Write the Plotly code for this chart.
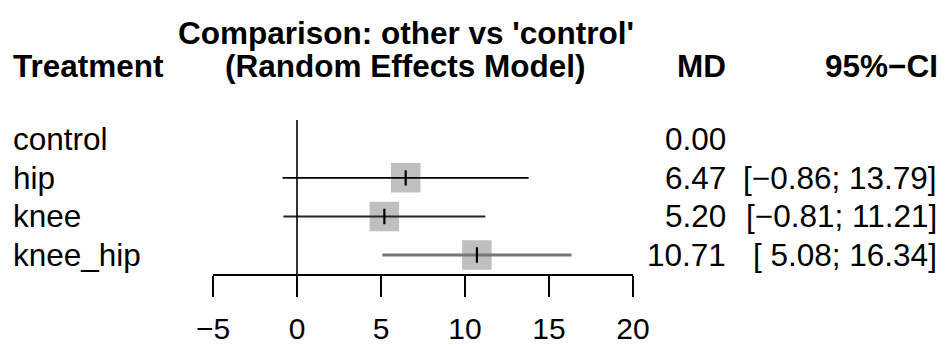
import plotly.graph_objects as go

# ---- data ----
treatments = ["control", "hip", "knee", "knee_hip"]
md = [0.00, 6.47, 5.20, 10.71]
lower = [None, -0.86, -0.81, 5.08]
upper = [None, 13.79, 11.21, 16.34]
tick_vals = [-5, 0, 5, 10, 15, 20]
tick_text = ["\u22125", "0", "5", "10", "15", "20"]

W, H = 946, 347
FONT = "Liberation Sans, Arial, sans-serif"
FS = 31.5

def fmt(v):
    s = f"{v:.2f}"
    return s.replace("-", "\u2212")

def fmt_ci(lo, hi):
    l = fmt(lo)
    h = fmt(hi)
    l = l if l.startswith("\u2212") else " " + l
    return f"[{l}; {h}]"

n = len(treatments)
ypos = list(range(n, 0, -1))  # control at top

fig = go.Figure()

line_styles = {"hip": ("#000000", 1.6), "knee": ("#262626", 1.9), "knee_hip": ("#767676", 3.0)}

# squares
sq_x, sq_y = [], []
for t, m, lo, hi, y in zip(treatments, md, lower, upper, ypos):
    if lo is None:
        continue
    sq_x.append(m)
    sq_y.append(y)
fig.add_trace(go.Scatter(x=sq_x, y=sq_y, mode="markers",
                         marker=dict(symbol="square", size=29.5, color="#bfbfbf", line=dict(width=0)),
                         hoverinfo="skip", showlegend=False))

# CI lines
for t, m, lo, hi, y in zip(treatments, md, lower, upper, ypos):
    if lo is None:
        continue
    col, wd = line_styles.get(t, ("#000000", 1.6))
    fig.add_trace(go.Scatter(x=[lo, hi], y=[y, y], mode="lines",
                             line=dict(color=col, width=wd),
                             hoverinfo="skip", showlegend=False))

# estimate ticks
fig.add_trace(go.Scatter(x=sq_x, y=sq_y, mode="markers",
                         marker=dict(symbol="line-ns", size=11, line=dict(color="#000000", width=2.2)),
                         hoverinfo="skip", showlegend=False))

# reference line at 0
fig.add_shape(type="line", xref="x", yref="y", x0=0, x1=0, y0=0.5, y1=4.5,
              line=dict(color="#000000", width=1.6), layer="above")

ann = []
def px(x):
    return x / W
def py(y):
    return 1 - y / H

txt = dict(size=FS, family=FONT, color="#000000")

# row labels and values
for t, m, lo, hi, y in zip(treatments, md, lower, upper, ypos):
    ann.append(dict(x=px(11), y=y, xref="paper", yref="y", text=t, xanchor="left", yanchor="middle",
                    showarrow=False, font=txt))
    ann.append(dict(x=px(728), y=y, xref="paper", yref="y", text=fmt(m), xanchor="right", yanchor="middle",
                    showarrow=False, font=txt))
    if lo is not None:
        ann.append(dict(x=px(939), y=y, xref="paper", yref="y", text=fmt_ci(lo, hi), xanchor="right",
                        yanchor="middle", showarrow=False, font=txt))

# headers
ann.append(dict(x=px(406), y=py(33), xref="paper", yref="paper", text="<b>Comparison: other vs 'control'</b>",
                xanchor="center", yanchor="middle", showarrow=False, font=txt))
ann.append(dict(x=px(405), y=py(66), xref="paper", yref="paper", text="<b>(Random Effects Model)</b>",
                xanchor="center", yanchor="middle", showarrow=False, font=txt))
ann.append(dict(x=px(11), y=py(66), xref="paper", yref="paper", text="<b>Treatment</b>",
                xanchor="left", yanchor="middle", showarrow=False, font=txt))
ann.append(dict(x=px(728), y=py(66), xref="paper", yref="paper", text="<b>MD</b>",
                xanchor="right", yanchor="middle", showarrow=False, font=txt))
ann.append(dict(x=px(940), y=py(66), xref="paper", yref="paper", text="<b>95%\u2212CI</b>",
                xanchor="right", yanchor="middle", showarrow=False, font=txt))

fig.update_layout(
    template="none",
    width=W, height=H,
    margin=dict(l=0, r=0, t=0, b=0, autoexpand=False),
    paper_bgcolor="white", plot_bgcolor="white",
    annotations=ann,
    xaxis=dict(domain=[213 / W, 633 / W], range=[-5, 20], tickvals=tick_vals, ticktext=tick_text,
               showline=True, linecolor="#000000", linewidth=1.6, ticks="outside", ticklen=21,
               tickwidth=1.6, tickcolor="#000000", showgrid=False, zeroline=False, automargin=False,
               ticklabelstandoff=6,
               tickfont=dict(size=30, family=FONT, color="#000000"), anchor="y"),
    yaxis=dict(domain=[(H - 274.3) / H, (H - 120) / H], range=[0.5, 4.5], visible=False,
               showgrid=False, zeroline=False, automargin=False),
)

fig.write_html("out.html", config={"displayModeBar": False},
               post_script="document.body.style.margin='0';document.body.style.overflow='hidden';")
